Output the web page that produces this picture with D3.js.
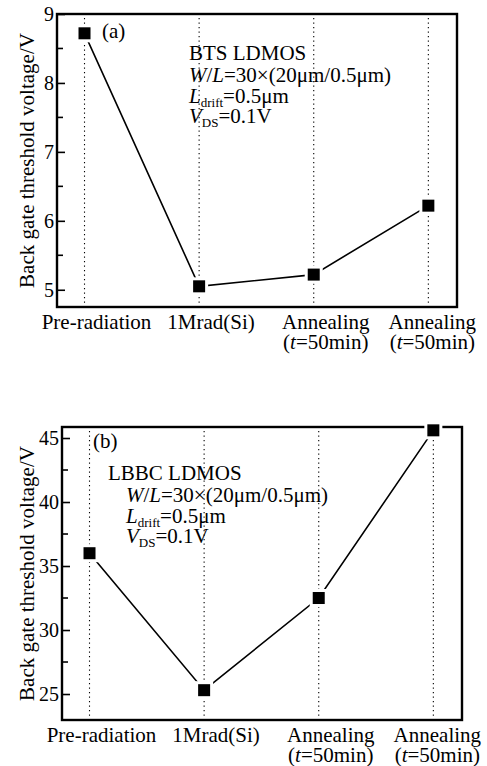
<!DOCTYPE html>
<html>
<head>
<meta charset="utf-8">
<script src="https://cdn.jsdelivr.net/npm/d3@7"></script>
<style>
  html, body { margin: 0; padding: 0; background: #fff; }
  text { font-family: "Liberation Serif", "Times New Roman", Tinos, "DejaVu Serif", serif; }
</style>
</head>
<body>
<div id="chart"></div>
<script>
const categories = ["Pre-radiation", "1Mrad(Si)", "Annealing", "Annealing"]
const subLabels = ["", "", "(t=50min)", "(t=50min)"]

const btsValues = [8.72, 5.05, 5.22, 6.22]
const btsTicks = [5, 6, 7, 8, 9]
const btsMinorTicks = [5.5, 6.5, 7.5, 8.5]

const lbbcValues = [36.0, 25.3, 32.5, 45.6]
const lbbcTicks = [25, 30, 35, 40, 45]
const lbbcMinorTicks = [27.5, 32.5, 37.5, 42.5]

const yLabel = "Back gate threshold voltage/V"

const serif = "'Liberation Serif', 'Times New Roman', Tinos, 'DejaVu Serif', serif"
const width = 487
const height = 766

const svg = d3.select("#chart")
  .append("svg")
  .attr("width", width)
  .attr("height", height)
  .attr("font-family", serif)

// a little helper for the annotation lines with italic / subscript parts
const richText = (g, x, y, parts, size) => {
  const t = g.append("text")
    .attr("x", x)
    .attr("y", y)
    .attr("font-family", serif)
    .style("font-size", size + "px")
  parts.forEach(p => {
    const s = t.append("tspan").text(p.text)
    if (p.italic) s.style("font-style", "italic")
    if (p.sub) s.attr("dy", 4).style("font-size", (size * 0.62) + "px")
    if (p.up) s.attr("dy", -4)
  })
  return t
}

const drawPanel = cfg => {
  const { left, right, top, bottom, domain, values, ticks, minorTicks, tag, tagPos, notes } = cfg

  const g = svg.append("g")

  const x = d3.scaleLinear()
    .domain([-0.24, 3.25])
    .range([left, right])

  const y = d3.scaleLinear()
    .domain(domain)
    .range([bottom, top])

  // dotted guide lines at each category
  g.selectAll(".guide")
    .data(categories)
    .enter()
    .append("line")
    .attr("x1", (d, i) => x(i))
    .attr("x2", (d, i) => x(i))
    .attr("y1", top + 4)
    .attr("y2", bottom - 4)
    .style("stroke", "#000")
    .style("stroke-width", 1.1)
    .style("stroke-dasharray", "1.2,3.3")

  // left axis, ticks pointing in
  const axis = g.append("g")
    .attr("transform", `translate(${left},0)`)
    .call(d3.axisRight(y).tickValues(ticks).tickSize(8).tickFormat(d3.format("d")))
  axis.attr("font-family", serif)
  axis.select(".domain").remove()
  axis.selectAll(".tick line").style("stroke-width", 1.6)
  axis.selectAll(".tick text")
    .attr("x", -3)
    .attr("dy", "0.34em")
    .style("text-anchor", "end")
    .style("font-size", "20px")
    .style("fill", "#000")

  g.append("g")
    .selectAll("line")
    .data(minorTicks)
    .enter()
    .append("line")
    .attr("x1", left)
    .attr("x2", left + 6)
    .attr("y1", d => y(d))
    .attr("y2", d => y(d))
    .style("stroke", "#000")
    .style("stroke-width", 1.6)

  // frame
  g.append("rect")
    .attr("x", left)
    .attr("y", top)
    .attr("width", right - left)
    .attr("height", bottom - top)
    .style("fill", "none")
    .style("stroke", "#000")
    .style("stroke-width", 2.4)

  // data line
  const line = d3.line()
    .x((d, i) => x(i))
    .y(d => y(d))

  g.append("path")
    .datum(values)
    .attr("d", line)
    .style("fill", "none")
    .style("stroke", "#000")
    .style("stroke-width", 1.6)

  g.selectAll(".halo")
    .data(values)
    .enter()
    .append("rect")
    .attr("x", (d, i) => x(i) - 9)
    .attr("y", d => y(d) - 9)
    .attr("width", 18)
    .attr("height", 18)
    .style("fill", "#fff")

  g.selectAll(".marker")
    .data(values)
    .enter()
    .append("rect")
    .attr("x", (d, i) => x(i) - 6)
    .attr("y", d => y(d) - 6)
    .attr("width", 12)
    .attr("height", 12)
    .style("fill", "#000")

  // category labels
  categories.forEach((c, i) => {
    let cx = x(i) + 12
    if (i === categories.length - 1) cx = x(i) + 4
    g.append("text")
      .attr("x", cx)
      .attr("y", bottom + 22)
      .style("text-anchor", "middle")
      .style("font-size", "21px")
      .text(c)
    if (subLabels[i]) {
      const t = g.append("text")
        .attr("x", cx)
        .attr("y", bottom + 42)
        .style("text-anchor", "middle")
        .style("font-size", "21px")
      t.append("tspan").text("(")
      t.append("tspan").style("font-style", "italic").text("t")
      t.append("tspan").text(subLabels[i].slice(2))
    }
  })

  // y axis title
  g.append("text")
    .attr("transform", `translate(34,${(top + bottom) / 2}) rotate(-90)`)
    .style("text-anchor", "middle")
    .style("font-size", "21px")
    .text(yLabel)

  // panel tag
  g.append("text")
    .attr("x", tagPos[0])
    .attr("y", tagPos[1])
    .style("font-size", "21px")
    .text(tag)

  // device notes
  notes.forEach(n => richText(g, n.x, n.y, n.parts, 21))
}

const noteLines = (name, x0, x1, y0) => [
  { x: x0, y: y0, parts: [{ text: name }] },
  { x: x1, y: y0 + 22, parts: [
    { text: "W", italic: true }, { text: "/" }, { text: "L", italic: true },
    { text: "=30×(20μm/0.5μm)" }] },
  { x: x1, y: y0 + 43, parts: [
    { text: "L", italic: true }, { text: "drift", sub: true },
    { text: "=0.5μm", up: true }] },
  { x: x1, y: y0 + 63, parts: [
    { text: "V", italic: true }, { text: "DS", sub: true },
    { text: "=0.1V", up: true }] }
]

drawPanel({
  left: 57, right: 457, top: 14, bottom: 307,
  domain: [4.75, 9],
  values: btsValues,
  ticks: btsTicks,
  minorTicks: btsMinorTicks,
  tag: "(a)",
  tagPos: [102, 38],
  notes: noteLines("BTS LDMOS", 189, 189, 60)
})

drawPanel({
  left: 62, right: 462, top: 427, bottom: 720,
  domain: [22.97, 45.86],
  values: lbbcValues,
  ticks: lbbcTicks,
  minorTicks: lbbcMinorTicks,
  tag: "(b)",
  tagPos: [93, 448],
  notes: noteLines("LBBC LDMOS", 108, 126, 480)
})
</script>
</body>
</html>
